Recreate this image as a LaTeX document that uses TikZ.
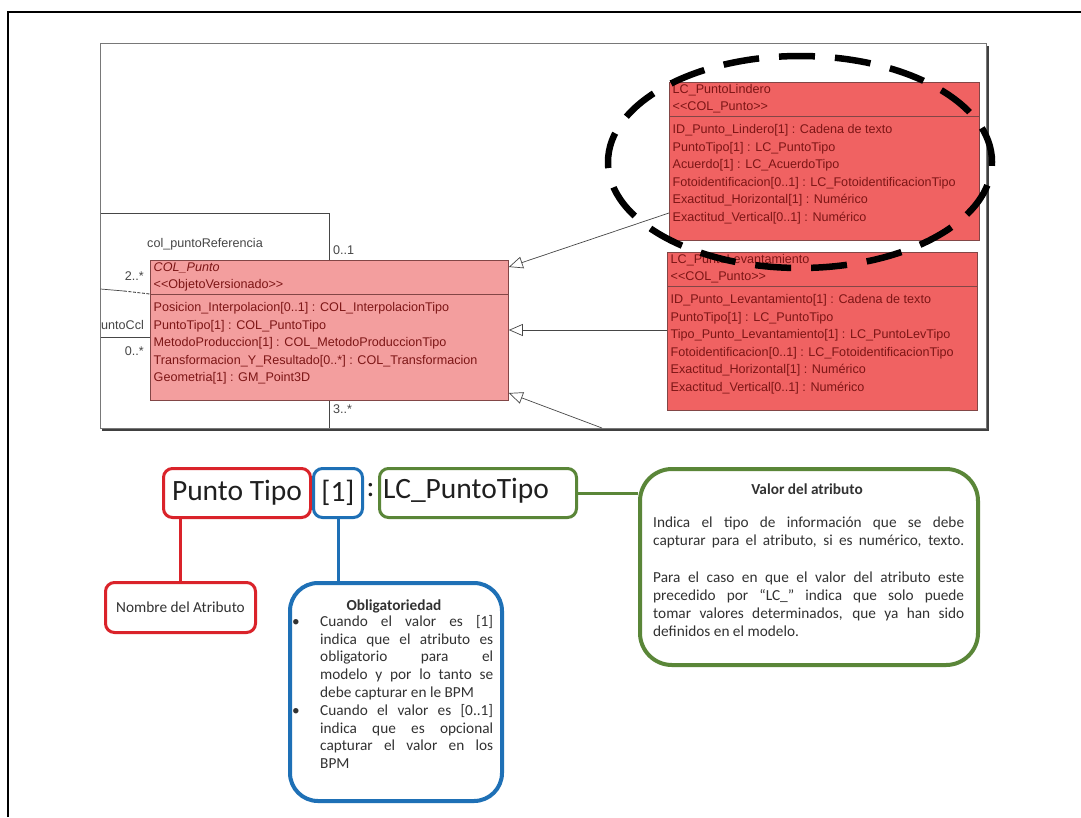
\documentclass[tikz,border=0pt]{standalone}
\usepackage{fontspec}
\setmainfont{Carlito}
\newfontfamily\umlfont{Liberation Sans}
\usetikzlibrary{arrows.meta,shapes.geometric}
\definecolor{cred}{RGB}{218,35,42}
\definecolor{cblue}{RGB}{30,112,182}
\definecolor{cgreen}{RGB}{90,134,56}
\definecolor{pinkfill}{RGB}{243,158,158}
\definecolor{redfill}{RGB}{240,98,98}
\definecolor{umlink}{RGB}{125,22,22}
\definecolor{umlborder}{RGB}{130,70,70}
\definecolor{linkgray}{RGB}{70,70,70}
\definecolor{txtgray}{RGB}{50,50,50}
\definecolor{framegray}{RGB}{120,120,120}
\begin{document}
\begin{tikzpicture}[x=1pt,y=-1pt,
  umlbox/.style={draw=umlborder, line width=0.8pt, anchor=north west, inner sep=0pt},
  umltext/.style={anchor=west, inner sep=0pt, font=\umlfont\fontsize{12.6}{15}\selectfont, text=umlink, text height=9pt, text depth=2.5pt},
  umllabel/.style={umltext, text=linkgray},
  umlsep/.style={draw=umlborder, line width=0.8pt},
  link/.style={draw=linkgray, line width=0.7pt},
  gen/.style={link, -{Triangle[open, length=14pt, width=12pt]}},
  callbox/.style={draw, anchor=north west, inner sep=0pt},
  bigtext/.style={font=\fontsize{29.5}{32}\selectfont, text=black!88, inner sep=0pt},
  bodytext/.style={font=\fontsize{15.3}{17.7}\selectfont, text=txtgray, inner sep=0pt, anchor=base west},
  bodybold/.style={font=\bfseries\fontsize{15.3}{17.7}\selectfont, text=txtgray, inner sep=0pt}
]
\useasboundingbox (0,0) rectangle (1081,817);
\fill[white] (0,0) rectangle (1081,817);

% outer frame (left and top edges)
\coordinate (ofBL) at (8,817);
\coordinate (ofTL) at (8,12);
\coordinate (ofTR) at (1081,12);
\draw[line width=2pt] (ofBL) -- (ofTL) -- (ofTR);

% ---------- UML screenshot ----------
\node[draw=framegray, line width=0.8pt, anchor=north west, inner sep=0pt,
      minimum width=886pt, minimum height=385pt] (uml) at (100,43) {};
\draw[black!75, line width=2.5pt] ([xshift=2pt,yshift=-1.2pt]uml.south west) -- ([xshift=1.2pt,yshift=-1.2pt]uml.south east) -- ([xshift=1.2pt,yshift=-3pt]uml.north east);

% COL_Punto
\node[umlbox, fill=pinkfill, minimum width=358pt, minimum height=140pt] (colp) at (150,260) {};
\draw[umlsep] ([yshift=-34pt]colp.north west) -- ([yshift=-34pt]colp.north east);
\node[umltext] (colpT) at (153.5,268.5) {\itshape COL\_Punto};
\node[umltext] (colpS) at (153.5,285.5) {<{}<ObjetoVersionado>{}>};
\foreach \t [count=\i from 0] in {
  {Posicion\_Interpolacion[0..1] : COL\_InterpolacionTipo},
  {PuntoTipo[1] : COL\_PuntoTipo},
  {MetodoProduccion[1] : COL\_MetodoProduccionTipo},
  {Transformacion\_Y\_Resultado[0..*] : COL\_Transformacion},
  {Geometria[1] : GM\_Point3D}}
  \node[umltext] (colpA\i) at (153.5,{308.5+17.5*\i}) {\t};

% LC_PuntoLindero
\node[umlbox, fill=redfill, minimum width=310pt, minimum height=158pt] (lind) at (669,82) {};
\draw[umlsep] ([yshift=-34pt]lind.north west) -- ([yshift=-34pt]lind.north east);
\node[umltext] (lindT) at (672.5,90.5) {LC\_PuntoLindero};
\node[umltext] (lindS) at (672.5,107.5) {<{}<COL\_Punto>{}>};
\foreach \t [count=\i from 0] in {
  {ID\_Punto\_Lindero[1] : Cadena de texto},
  {PuntoTipo[1] : LC\_PuntoTipo},
  {Acuerdo[1] : LC\_AcuerdoTipo},
  {Fotoidentificacion[0..1] : LC\_FotoidentificacionTipo},
  {Exactitud\_Horizontal[1] : Numérico},
  {Exactitud\_Vertical[0..1] : Numérico}}
  \node[umltext] (lindA\i) at (672.5,{130.5+17.5*\i}) {\t};

% LC_PuntoLevantamiento
\node[umlbox, fill=redfill, minimum width=310pt, minimum height=158pt] (lev) at (667,252) {};
\draw[umlsep] ([yshift=-34pt]lev.north west) -- ([yshift=-34pt]lev.north east);
\node[umltext] (levT) at (670.5,260.5) {LC\_PuntoLevantamiento};
\node[umltext] (levS) at (670.5,277.5) {<{}<COL\_Punto>{}>};
\foreach \t [count=\i from 0] in {
  {ID\_Punto\_Levantamiento[1] : Cadena de texto},
  {PuntoTipo[1] : LC\_PuntoTipo},
  {Tipo\_Punto\_Levantamiento[1] : LC\_PuntoLevTipo},
  {Fotoidentificacion[0..1] : LC\_FotoidentificacionTipo},
  {Exactitud\_Horizontal[1] : Numérico},
  {Exactitud\_Vertical[0..1] : Numérico}}
  \node[umltext] (levA\i) at (670.5,{300.5+17.5*\i}) {\t};

% generalization arrows
\draw[gen] ([yshift=-131pt]lind.north west) -- ([yshift=-7pt]colp.north east);
\draw[gen] ([yshift=-78pt]lev.north west) -- ([yshift=-70pt]colp.north east);
\coordinate (a3) at (602,428);
\draw[gen] (a3) -- ([yshift=-133pt]colp.north east);

% association links on the left
\coordinate (lk1) at (100.5,213);
\coordinate (lk1b) at (329,213);
\draw[link] (lk1) -- (lk1b) -- (lk1b |- colp.north);
\coordinate (lk2) at (100.5,289);
\coordinate (lk2m) at (124,291);
\draw[link] (lk2) -- (lk2m);
\draw[link, dash pattern=on 3pt off 1.5pt, line width=0.9pt] (lk2m) -- ([yshift=-34pt]colp.north west);
\coordinate (lk3) at (100.5,337);
\draw[link] (lk3) -- (lk3 -| colp.west);
\coordinate (lk4) at (329,428);
\draw[link] (lk4 |- colp.south) -- (lk4);

% labels
\node[umllabel] (lbRef) at (147,244) {col\_puntoReferencia};
\node[umllabel] (lb01) at (333,251) {0..1};
\node[umllabel, anchor=east] (lb2s) at (144,277) {2..*};
\node[umllabel] (lbCcl) at (101,326) {untoCcl};
\node[umllabel, anchor=east] (lb0s) at (144,352) {0..*};
\node[umllabel] (lb3s) at (333,410) {3..*};

% dashed highlight ellipse
\node[draw, ellipse, line width=6.5pt, dash pattern=on 36pt off 20pt, inner sep=0pt,
      minimum width=384pt, minimum height=212pt] (ell) at (800,162) {};

% ---------- explanation ----------
\node[callbox, draw=cred, line width=3pt, rounded corners=9pt, minimum width=147pt, minimum height=49pt, bigtext] (pt) at (162,467) {Punto Tipo};
\node[callbox, draw=cblue, line width=3pt, rounded corners=9pt, minimum width=49pt, minimum height=49pt, bigtext] (one) at (312,467) {[1]};
\node[bigtext] (colon) at (370.5,490) {:};
\node[callbox, draw=cgreen, line width=3pt, rounded corners=9pt, minimum width=197pt, minimum height=49pt] (lcpt) at (378,467) {};
\node[bigtext, anchor=west] (lcptT) at (383,491) {LC\_PuntoTipo};

\node[callbox, draw=cred, line width=3pt, rounded corners=9pt, minimum width=150pt, minimum height=50pt,
      font=\fontsize{15.3}{17.7}\selectfont, text=txtgray] (nom) at (104,581) {Nombre del Atributo};
\node[callbox, draw=cblue, line width=4pt, rounded corners=28pt, minimum width=212pt, minimum height=218pt] (obl) at (288,581) {};
\node[callbox, draw=cgreen, line width=4pt, rounded corners=32pt, minimum width=338pt, minimum height=196pt] (val) at (638,467) {};

\draw[cred, line width=3pt] (pt.south -| nom.north) -- (nom.north);
\draw[cblue, line width=3pt] (one.south) -- (one.south |- obl.north);
\draw[cgreen, line width=3pt] (lcpt.east) -- (lcpt.east -| val.west);

% Obligatoriedad text
\node[bodybold] (oblT) at (394,606) {Obligatoriedad};
\node[bodytext, anchor=base] (oblB1) at (296,626.5) {\textbullet};
\foreach \t [count=\i from 0] in {
  {\makebox[173pt][s]{Cuando el valor es [1]}},
  {\makebox[173pt][s]{indica que el atributo es}},
  {\makebox[173pt][s]{obligatorio para el}},
  {\makebox[173pt][s]{modelo y por lo tanto se}},
  {debe capturar en le BPM}}
  \node[bodytext] (oblP\i) at (320,{626.5+17.7*\i}) {\t};
\node[bodytext, anchor=base] (oblB2) at (296,715.5) {\textbullet};
\foreach \t [count=\i from 0] in {
  {\makebox[173pt][s]{Cuando el valor es [0..1]}},
  {\makebox[173pt][s]{indica que es opcional}},
  {\makebox[173pt][s]{capturar el valor en los}},
  {BPM}}
  \node[bodytext] (oblQ\i) at (320,{715.5+17.7*\i}) {\t};

% Valor del atributo text
\node[bodybold] (valT) at (807,489) {Valor del atributo};
\node[bodytext] (valL1) at (653,527) {\makebox[311pt][s]{Indica el tipo de información que se debe}};
\node[bodytext] (valL2) at (653,545) {\makebox[311pt][s]{capturar para el atributo, si es numérico, texto.}};
\node[bodytext] (valL3) at (653,582) {\makebox[311pt][s]{Para el caso en que el valor del atributo este}};
\node[bodytext] (valL4) at (653,600) {\makebox[311pt][s]{precedido por “LC\_” indica que solo puede}};
\node[bodytext] (valL5) at (653,618) {\makebox[311pt][s]{tomar valores determinados, que ya han sido}};
\node[bodytext] (valL6) at (653,636) {definidos en el modelo.};
\end{tikzpicture}
\end{document}
